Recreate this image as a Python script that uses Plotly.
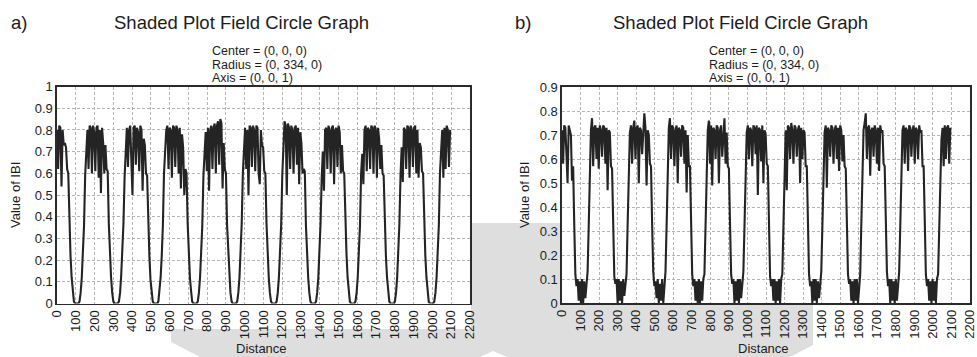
import plotly.graph_objects as go

W, H = 977, 357
FONT = "Arial, Liberation Sans, sans-serif"

# ---------------- data ----------------
distance = list(range(0, 2100, 6))

ibi_a = [
    0.80, 0.62, 0.82, 0.81, 0.54, 0.80, 0.73, 0.74, 0.72, 0.62,
    0.60, 0.36, 0.22, 0.12, 0.05, 0.01, 0.00, 0.00, 0.00, 0.00, 0.01, 0.05, 0.12, 0.22, 0.36, 0.59,
    0.70, 0.80, 0.62, 0.82, 0.81, 0.60, 0.82, 0.79, 0.61, 0.81, 0.82, 0.58, 0.80, 0.51, 0.81, 0.74, 0.60, 0.73, 0.62,
    0.61, 0.37, 0.23, 0.12, 0.05, 0.01, 0.00, 0.00, 0.00, 0.00, 0.01, 0.05, 0.13, 0.23, 0.37, 0.58,
    0.72, 0.81, 0.63, 0.80, 0.82, 0.60, 0.50, 0.81, 0.82, 0.64, 0.81, 0.79, 0.61, 0.82, 0.80, 0.52, 0.76, 0.73, 0.60,
    0.59, 0.36, 0.22, 0.11, 0.05, 0.01, 0.00, 0.00, 0.00, 0.00, 0.01, 0.06, 0.12, 0.22, 0.36, 0.60,
    0.70, 0.80, 0.82, 0.62, 0.81, 0.80, 0.58, 0.82, 0.81, 0.63, 0.82, 0.80, 0.60, 0.81, 0.53, 0.78, 0.72, 0.50, 0.62,
    0.60, 0.37, 0.22, 0.12, 0.06, 0.01, 0.00, 0.00, 0.00, 0.00, 0.01, 0.05, 0.12, 0.23, 0.36, 0.59,
    0.68, 0.79, 0.61, 0.81, 0.52, 0.80, 0.82, 0.62, 0.81, 0.83, 0.60, 0.82, 0.84, 0.64, 0.85, 0.83, 0.53, 0.74, 0.62,
    0.60, 0.36, 0.23, 0.12, 0.05, 0.01, 0.00, 0.00, 0.00, 0.00, 0.01, 0.05, 0.12, 0.22, 0.37, 0.60,
    0.71, 0.81, 0.62, 0.80, 0.50, 0.82, 0.81, 0.63, 0.82, 0.80, 0.61, 0.82, 0.81, 0.60, 0.55, 0.80, 0.73, 0.72, 0.61,
    0.60, 0.37, 0.22, 0.12, 0.05, 0.01, 0.00, 0.00, 0.00, 0.00, 0.01, 0.05, 0.12, 0.22, 0.36, 0.59,
    0.72, 0.84, 0.82, 0.50, 0.83, 0.81, 0.62, 0.82, 0.80, 0.60, 0.81, 0.82, 0.64, 0.81, 0.55, 0.79, 0.74, 0.60, 0.62,
    0.61, 0.36, 0.22, 0.12, 0.05, 0.01, 0.00, 0.00, 0.00, 0.00, 0.01, 0.05, 0.12, 0.23, 0.37, 0.58,
    0.70, 0.52, 0.80, 0.81, 0.62, 0.82, 0.80, 0.60, 0.81, 0.82, 0.55, 0.80, 0.81, 0.63, 0.82, 0.79, 0.60, 0.73, 0.61,
    0.60, 0.37, 0.23, 0.12, 0.05, 0.01, 0.00, 0.00, 0.00, 0.00, 0.01, 0.05, 0.12, 0.22, 0.36, 0.60,
    0.69, 0.55, 0.80, 0.82, 0.61, 0.81, 0.80, 0.62, 0.82, 0.81, 0.60, 0.82, 0.80, 0.58, 0.81, 0.76, 0.62, 0.73, 0.60,
    0.59, 0.36, 0.22, 0.12, 0.05, 0.01, 0.00, 0.00, 0.00, 0.00, 0.01, 0.05, 0.12, 0.22, 0.37, 0.59,
    0.72, 0.56, 0.81, 0.80, 0.62, 0.82, 0.81, 0.58, 0.82, 0.80, 0.63, 0.81, 0.82, 0.60, 0.80, 0.58, 0.74, 0.72, 0.61,
    0.60, 0.37, 0.22, 0.12, 0.05, 0.01, 0.00, 0.00, 0.00, 0.00, 0.01, 0.05, 0.12, 0.23, 0.36, 0.60,
    0.70, 0.80, 0.58, 0.81, 0.62, 0.82, 0.80, 0.63, 0.80,
]

ibi_b = [
    0.72, 0.58, 0.74, 0.73, 0.62, 0.50, 0.74, 0.72, 0.70, 0.51,
    0.57, 0.33, 0.12, 0.07, 0.10, 0.01, 0.09, 0.00, 0.10, 0.00, 0.09, 0.02, 0.10, 0.13, 0.32, 0.57,
    0.72, 0.77, 0.57, 0.73, 0.74, 0.60, 0.73, 0.56, 0.74, 0.72, 0.61, 0.74, 0.73, 0.58, 0.73, 0.47, 0.72, 0.71, 0.57,
    0.56, 0.32, 0.11, 0.08, 0.10, 0.00, 0.10, 0.01, 0.09, 0.00, 0.10, 0.03, 0.09, 0.12, 0.33, 0.57,
    0.71, 0.74, 0.58, 0.73, 0.76, 0.60, 0.73, 0.74, 0.50, 0.73, 0.72, 0.62, 0.74, 0.79, 0.73, 0.49, 0.72, 0.70, 0.58,
    0.57, 0.33, 0.13, 0.07, 0.09, 0.02, 0.10, 0.00, 0.08, 0.01, 0.10, 0.00, 0.09, 0.13, 0.32, 0.56,
    0.73, 0.77, 0.60, 0.74, 0.73, 0.57, 0.72, 0.74, 0.50, 0.73, 0.72, 0.61, 0.74, 0.73, 0.58, 0.72, 0.46, 0.70, 0.57,
    0.57, 0.32, 0.12, 0.07, 0.10, 0.01, 0.09, 0.00, 0.10, 0.00, 0.09, 0.01, 0.10, 0.12, 0.33, 0.57,
    0.72, 0.76, 0.58, 0.74, 0.49, 0.73, 0.72, 0.60, 0.74, 0.73, 0.50, 0.72, 0.74, 0.61, 0.73, 0.77, 0.58, 0.71, 0.57,
    0.56, 0.33, 0.12, 0.08, 0.10, 0.00, 0.09, 0.01, 0.10, 0.00, 0.10, 0.02, 0.09, 0.13, 0.32, 0.57,
    0.71, 0.74, 0.60, 0.73, 0.72, 0.57, 0.74, 0.73, 0.62, 0.74, 0.45, 0.73, 0.72, 0.59, 0.74, 0.50, 0.72, 0.70, 0.58,
    0.57, 0.32, 0.11, 0.07, 0.10, 0.01, 0.10, 0.00, 0.09, 0.01, 0.10, 0.00, 0.10, 0.12, 0.33, 0.56,
    0.72, 0.47, 0.74, 0.73, 0.60, 0.75, 0.72, 0.58, 0.74, 0.73, 0.61, 0.72, 0.74, 0.50, 0.73, 0.60, 0.72, 0.71, 0.57,
    0.57, 0.33, 0.12, 0.07, 0.09, 0.00, 0.10, 0.01, 0.10, 0.00, 0.09, 0.02, 0.10, 0.13, 0.32, 0.57,
    0.71, 0.74, 0.48, 0.73, 0.72, 0.61, 0.74, 0.73, 0.58, 0.72, 0.74, 0.60, 0.73, 0.55, 0.74, 0.72, 0.59, 0.70, 0.57,
    0.56, 0.32, 0.12, 0.08, 0.10, 0.01, 0.09, 0.00, 0.10, 0.01, 0.10, 0.00, 0.09, 0.12, 0.33, 0.57,
    0.72, 0.75, 0.79, 0.60, 0.73, 0.74, 0.53, 0.72, 0.73, 0.61, 0.74, 0.72, 0.58, 0.73, 0.55, 0.74, 0.71, 0.72, 0.58,
    0.57, 0.33, 0.13, 0.07, 0.10, 0.00, 0.10, 0.01, 0.09, 0.00, 0.10, 0.01, 0.10, 0.13, 0.32, 0.56,
    0.72, 0.74, 0.58, 0.73, 0.72, 0.55, 0.74, 0.73, 0.61, 0.72, 0.74, 0.58, 0.73, 0.72, 0.60, 0.74, 0.71, 0.72, 0.57,
    0.57, 0.32, 0.12, 0.07, 0.10, 0.01, 0.09, 0.00, 0.10, 0.01, 0.09, 0.00, 0.10, 0.12, 0.33, 0.57,
    0.68, 0.73, 0.57, 0.74, 0.60, 0.73, 0.74, 0.58, 0.73,
]

panel_labels = ["a)", "b)"]
title_text = "Shaded Plot Field Circle Graph"
info_lines = ["Center = (0, 0, 0)", "Radius = (0, 334, 0)", "Axis = (0, 0, 1)"]
x_title = "Distance"
y_title = "Value of IBI"


def fx(px):
    return px / W


def fy(py):
    return 1 - py / H


# plot-area pixel boxes
A = dict(l=57, r=470, t=86.6, b=303.5)
B = dict(l=562, r=970, t=87, b=303)

TXT = "#1c1c1c"
LINE = "#242424"

fig = go.Figure()
fig.add_trace(go.Scatter(x=distance, y=ibi_a, mode="lines",
                         line=dict(color=LINE, width=2.1), xaxis="x", yaxis="y",
                         showlegend=False, hoverinfo="skip"))
fig.add_trace(go.Scatter(x=distance, y=ibi_b, mode="lines",
                         line=dict(color=LINE, width=2.1), xaxis="x2", yaxis="y2",
                         showlegend=False, hoverinfo="skip"))

common = dict(showgrid=True, gridcolor="#b4b4b4", gridwidth=1, griddash="3px,2px",
              showline=True, mirror=True, linecolor="#2a2a2a", linewidth=1.6,
              ticks="", zeroline=False, fixedrange=True, automargin=False,
              ticklabeloverflow="allow",
              tickfont=dict(size=13, color=TXT, family=FONT))

xcommon = dict(common, range=[0, 2200], tick0=0, dtick=100, tickangle=-90)

fig.update_layout(
    width=W, height=H, autosize=False,
    margin=dict(l=0, r=0, t=0, b=0),
    paper_bgcolor="white", plot_bgcolor="white",
    font=dict(family=FONT, color=TXT),
    xaxis=dict(xcommon, domain=[fx(A["l"]), fx(A["r"])], anchor="y"),
    yaxis=dict(common, domain=[fy(A["b"]), fy(A["t"])], range=[0, 1], dtick=0.1, tick0=0, anchor="x"),
    xaxis2=dict(xcommon, domain=[fx(B["l"]), fx(B["r"])], anchor="y2"),
    yaxis2=dict(common, domain=[fy(B["b"]), fy(B["t"])], range=[0, 0.9], dtick=0.1, tick0=0, anchor="x2"),
)

# decorative light-gray background shape behind the panels
poly = [(171, 329), (471, 329), (471, 223), (813, 223), (813, 345), (790, 357),
        (507, 357), (493, 351), (480, 357), (200, 357), (171, 342)]
path = "M " + " L ".join(f"{fx(x):.5f},{fy(y):.5f}" for x, y in poly) + " Z"
shapes = [dict(type="path", path=path, xref="paper", yref="paper",
               fillcolor="#dedede", line=dict(width=0), layer="below")]
for box in (A, B):
    shapes.append(dict(type="rect", xref="paper", yref="paper",
                       x0=fx(box["l"]), x1=fx(box["r"]), y0=fy(box["b"]), y1=fy(box["t"]),
                       fillcolor="white", line=dict(width=0), layer="below"))
fig.update_layout(shapes=shapes)

ann = []
for lab, lx, cx, sx, ylx, dx in [
    (panel_labels[0], 9, 241.5, 210, 16, 261),
    (panel_labels[1], 513, 740.5, 707, 525, 763),
]:
    ann.append(dict(text=lab, x=fx(lx), y=fy(22), xref="paper", yref="paper",
                    xanchor="left", yanchor="middle", showarrow=False,
                    font=dict(size=18.5, color=TXT, family=FONT)))
    ann.append(dict(text=title_text, x=fx(cx), y=fy(22), xref="paper", yref="paper",
                    xanchor="center", yanchor="middle", showarrow=False,
                    font=dict(size=18.5, color=TXT, family=FONT)))
    for line_txt, ly in zip(info_lines, [51, 64.5, 78]):
        ann.append(dict(text=line_txt, x=fx(sx), y=fy(ly), xref="paper", yref="paper",
                        xanchor="left", yanchor="middle", showarrow=False,
                        font=dict(size=12.5, color=TXT, family=FONT)))
    ann.append(dict(text=y_title, x=fx(ylx), y=fy(195), xref="paper", yref="paper",
                    xanchor="center", yanchor="middle", textangle=-90, showarrow=False,
                    font=dict(size=13, color=TXT, family=FONT)))
    ann.append(dict(text=x_title, x=fx(dx), y=fy(348.5), xref="paper", yref="paper",
                    xanchor="center", yanchor="middle", showarrow=False,
                    font=dict(size=13, color=TXT, family=FONT)))
fig.update_layout(annotations=ann)

fig.write_html("out.html",
               config={"displayModeBar": False, "staticPlot": True},
               post_script="document.body.style.margin='0px';document.body.style.overflow='hidden';")
